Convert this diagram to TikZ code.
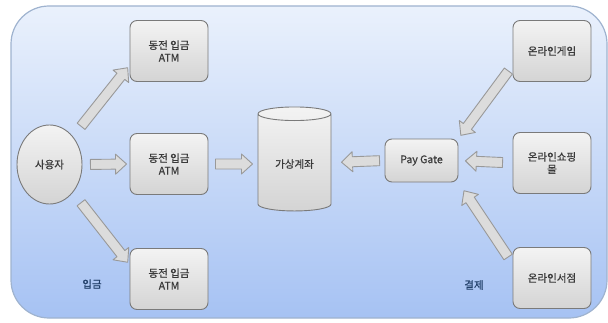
\documentclass[tikz,border=0pt]{standalone}
\usepackage{fontspec}
\setmainfont{Noto Sans CJK KR}
\newfontfamily\boxfont{Noto Sans CJK KR}[FakeBold=0.7]
\usetikzlibrary{shapes,calc}

\definecolor{bgtop}{HTML}{EAF1FC}
\definecolor{bgbot}{HTML}{A6C2F3}
\definecolor{bgline}{HTML}{9FB3CF}
\definecolor{boxtop}{HTML}{F3F3F3}
\definecolor{boxbot}{HTML}{D4D4D4}
\definecolor{boxline}{HTML}{7A7A7A}
\definecolor{arrfill}{HTML}{DCDCDC}
\definecolor{arrline}{HTML}{999999}
\definecolor{boxtext}{HTML}{3A3A3A}
\definecolor{labtext}{HTML}{22406A}

% block arrow: tail anchor, tip anchor, tail gap, tip gap
\newcommand{\bigarrow}[4]{%
  \coordinate (ba-s) at ($#1!#3!#2$);
  \coordinate (ba-e) at ($#2!#4!#1$);
  \coordinate (ba-h) at ($(ba-e)!11pt!(ba-s)$);
  \draw[flowarrow] ($(ba-s)!5pt!90:(ba-e)$) -- ($(ba-h)!5pt!90:(ba-e)$)
    -- ($(ba-h)!10pt!90:(ba-e)$) -- (ba-e) -- ($(ba-h)!10pt!-90:(ba-e)$)
    -- ($(ba-h)!5pt!-90:(ba-e)$) -- ($(ba-s)!5pt!-90:(ba-e)$) -- cycle;
}

\begin{document}
\begin{tikzpicture}[x=1pt,y=1pt]
        \tikzstyle{every node}=[font=\boxfont\fontsize{10.5}{12.5}\selectfont, text=boxtext]
        \tikzstyle{box}=[rectangle, rounded corners=7pt, draw=boxline, line width=0.9pt, top color=boxtop, bottom color=boxbot, minimum width=78pt, minimum height=61pt, align=center]
        \tikzstyle{flowarrow}=[draw=arrline, fill=arrfill, line width=0.9pt, line join=round]
        \tikzstyle{lab}=[text=labtext]

        \useasboundingbox (0,0) rectangle (608,322);
        \draw[draw=bgline, line width=1.2pt, top color=bgtop, bottom color=bgbot, rounded corners=38pt] (11,4) rectangle (607,316);

        % depositors side
        \node[ellipse, draw=boxline, line width=0.9pt, top color=boxtop, bottom color=boxbot, minimum width=65pt, minimum height=79pt] (user) at (49.5,157.5) {사용자};
        \node[box] (atm1) at (169,271) {동전 입금\\ATM};
        \node[box] (atm2) at (169,158) {동전 입금\\ATM};
        \node[box] (atm3) at (169,43) {동전 입금\\ATM};
        \node[cylinder, shape border rotate=90, aspect=0.3, draw=boxline, line width=0.9pt, top color=boxtop, bottom color=boxbot, minimum width=73pt, minimum height=104pt] (account) at (294.5,158) {가상계좌};

        % shops side
        \node[box, minimum width=73pt, minimum height=43pt] (gate) at (421.5,161.5) {Pay Gate};
        \node[box] (game) at (552,271) {온라인게임};
        \node[box] (shop) at (552,159) {온라인쇼핑\\몰};
        \node[box] (store) at (552,44) {온라인서점};

        \node[lab] (deposit) at (92,38) {입금};
        \node[lab] (pay) at (474,37) {결제};

        \bigarrow{(user.50)}{(atm1.200)}{13pt}{3pt}
        \bigarrow{(user.east)}{(atm2.west)}{8pt}{3pt}
        \bigarrow{(user.-50)}{(atm3.160)}{13pt}{3pt}
        \bigarrow{(atm2.east)}{(account.center)}{7pt}{42pt}
        \bigarrow{(gate.west)}{(account.center)}{5pt}{47pt}
        \bigarrow{(shop.west)}{(gate.east)}{10pt}{7pt}
        \bigarrow{(game.200)}{(gate.north east)}{7pt}{4pt}
        \bigarrow{(store.160)}{(gate.south east)}{8pt}{10pt}
\end{tikzpicture}
\end{document}
